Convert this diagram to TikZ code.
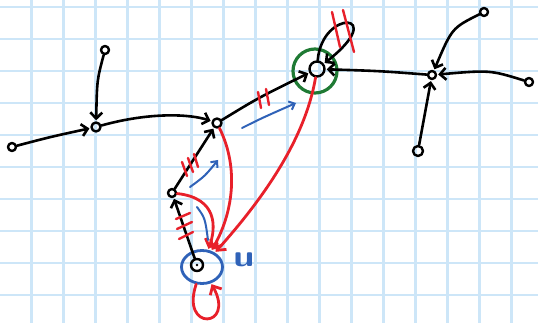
\documentclass[tikz,border=0pt]{standalone}
\usetikzlibrary{arrows.meta,shapes.geometric}
\definecolor{gridblue}{HTML}{CDE6F8}
\definecolor{penred}{HTML}{E8202A}
\definecolor{pengreen}{HTML}{1F7A34}
\definecolor{penblue}{HTML}{2F62B8}
\begin{document}
\begin{tikzpicture}[x=1pt,y=-1pt,line cap=round,line join=round,
  vtx/.style={circle,draw=black,line width=2.4pt,inner sep=0pt,minimum size=9pt},
  blk/.style={draw=black,line width=2.6pt,shorten >=1pt,
    -{Straight Barb[length=6pt,width=12pt,line width=2.6pt]}},
  redpen/.style={draw=penred,line width=2.8pt},
  redarr/.style={redpen,shorten >=1pt,
    -{Straight Barb[length=7pt,width=13pt,line width=2.8pt]}},
  bluepen/.style={draw=penblue,line width=2pt},
  bluearr/.style={bluepen,-{Straight Barb[length=5pt,width=9pt,line width=2pt]}},
  tickmark/.style={draw=penred,line width=2.4pt}
]
\useasboundingbox (0,0) rectangle (538,323);
\fill[white] (0,0) rectangle (538,323);
% squared paper
\foreach \gx in {1,...,16} \draw[gridblue,line width=2.6pt] (32*\gx-0.5,0) -- (32*\gx-0.5,323);
\foreach \gy in {0,...,9} \draw[gridblue,line width=2.6pt] (0,7+32*\gy) -- (538,7+32*\gy);

% vertices
\node[vtx,minimum size=8pt] (A) at (12,147) {};
\node[vtx,minimum size=8pt] (B) at (105,50) {};
\node[vtx] (C) at (96,127) {};
\node[vtx] (D) at (217,123) {};
\node[vtx,minimum size=8pt] (E) at (172,193) {};
\node[vtx,minimum size=12pt] (U) at (197,265) {};
\fill (U.center) circle (1.4pt);
\node[vtx,minimum size=15pt] (G) at (317,69) {};
\node[vtx,minimum size=8pt] (H) at (432,75) {};
\node[vtx,minimum size=8pt] (I) at (484,12) {};
\node[vtx,minimum size=8pt] (J) at (529,82) {};
\node[vtx,minimum size=10pt] (K) at (418,151) {};

% highlight rings
\node[circle,draw=pengreen,line width=3.2pt,minimum size=44pt,inner sep=0pt] (Gring) at (315,71) {};
\node[ellipse,draw=penblue,line width=2.8pt,minimum width=41pt,minimum height=33pt,inner sep=0pt] (Uring) at (202,267) {};
\node[text=penblue,font=\sffamily\bfseries\fontsize{30}{30}\selectfont,xscale=1.25] (ulabel) at (244,260) {u};

% black arcs
\draw[blk] (A) .. controls (50,137) .. (C);
\draw[blk] (B) .. controls (97,80) .. (C);
\draw[blk] (C) .. controls (150,112) and (190,114) .. (D);
\draw[blk] (E) -- (D);
\draw[blk] (U) -- (E);
\draw[blk] (D) .. controls (258,98) .. (G);
\draw[blk] (G) .. controls (322,8) and (390,12) .. (G);
\draw[blk] (H) .. controls (380,71) .. (G);
\draw[blk] (I) .. controls (452,28) .. (H);
\draw[blk] (J) .. controls (490,70) .. (H);
\draw[blk] (K) -- (H);

% red arcs into u
\draw[redarr] (D) .. controls (240,170) and (232,215) .. (Uring);
\draw[redarr] (G) .. controls (305,140) and (262,200) .. (Uring);
\draw[redarr] (E) .. controls (218,198) and (216,228) .. (Uring);
\draw[redarr] (Uring) .. controls (180,332) and (236,328) .. (Uring);

% red tick marks
\draw[tickmark] (258,92) -- (261,108);
\draw[tickmark] (266,89) -- (269,105);
\draw[tickmark] (332,12) -- (340,47);
\draw[tickmark] (343,10) -- (354,52);
\draw[tickmark] (182,162) -- (187,176);
\draw[tickmark] (188,158) -- (193,172);
\draw[tickmark] (194,154) -- (198,167);
\draw[tickmark] (176,219) -- (190,213);
\draw[tickmark] (177,229) -- (192,222);
\draw[tickmark] (179,239) -- (193,232);

% blue flow arrows
\coordinate (b1s) at (242,128); \coordinate (b1e) at (296,103);
\coordinate (b2s) at (190,187); \coordinate (b2e) at (218,160);
\coordinate (b3s) at (197,207); \coordinate (b3e) at (208,240);
\draw[bluearr] (b1s) .. controls (262,118) .. (b1e);
\draw[bluearr] (b2s) .. controls (205,176) .. (b2e);
\draw[bluepen] (b3s) .. controls (205,218) .. (b3e);
\end{tikzpicture}
\end{document}
